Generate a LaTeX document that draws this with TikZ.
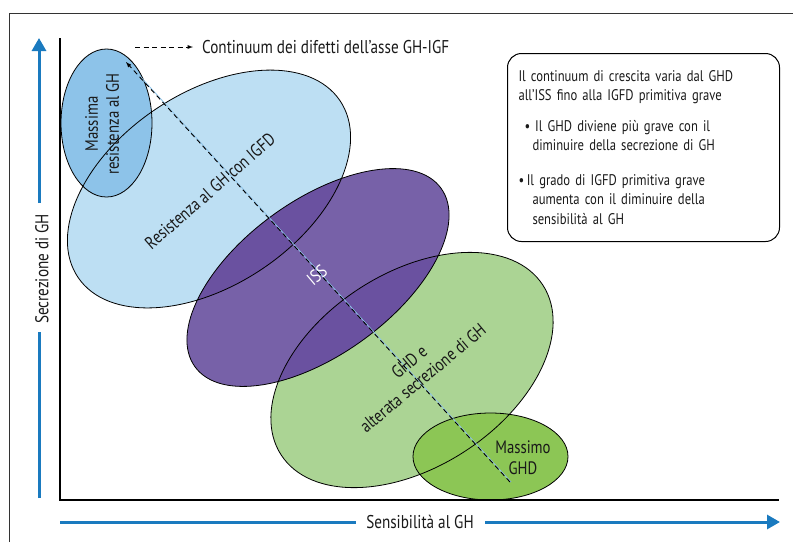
\documentclass[tikz,border=0pt]{standalone}
\usepackage{fontspec}
\setmainfont{PT Sans}[FakeStretch=0.82]
\usetikzlibrary{arrows.meta,calc}
\definecolor{skyblue}{HTML}{BDDFF3}
\definecolor{midblue}{HTML}{8DC3E9}
\definecolor{issviolet}{HTML}{7761A8}
\definecolor{issdark}{HTML}{6A51A0}
\definecolor{palegreen}{HTML}{ABD494}
\definecolor{ghdgreen}{HTML}{8CC655}
\definecolor{axisblue}{HTML}{1A7ABF}
\tikzstyle{lbl}=[inner sep=0pt, align=center, text=black!90, font=\fontsize{18}{21}\selectfont]
\tikzstyle{axlbl}=[inner sep=0pt, text=black!90, font=\fontsize{18.5}{20}\selectfont]
\tikzstyle{outl}=[draw=black, line width=0.8pt]
\tikzstyle{axline}=[axisblue, line width=3pt]
\tikzstyle{axarrow}=[axline, -{Triangle[length=13pt,width=14pt]}]
\tikzstyle{notebox}=[draw=black, line width=1pt, rounded corners=14pt, anchor=north west,
 minimum width=272pt, minimum height=188pt, text width=250pt, inner xsep=11pt,
 align=left, text=black!90, font=\fontsize{15.4}{19.5}\selectfont]
% ellipse paths
\def\ellRES{(209,189) ellipse [x radius=158pt, y radius=96pt, rotate=34]}
\def\ellMAX{(106.5,123) ellipse [x radius=45.5pt, y radius=74pt]}
\def\ellISS{(318,277.5) ellipse [x radius=152pt, y radius=77pt, rotate=36]}
\def\ellALT{(412,370) ellipse [x radius=156pt, y radius=97pt, rotate=33]}
\def\ellGHD{(490.5,456.5) ellipse [x radius=77.5pt, y radius=43.5pt]}
\begin{document}
\begin{tikzpicture}[x=1pt, y=-1pt]
\useasboundingbox (0,0) rectangle (793,542);
% frame
\draw[black!80, line width=0.8pt] (9,542) -- (9,13) -- (793,13);

% areas
\fill[skyblue] \ellRES;
\fill[midblue] \ellMAX;
\fill[palegreen] \ellALT;
\fill[ghdgreen] \ellGHD;
\fill[issviolet] \ellISS;
\begin{scope}
 \clip \ellISS;
 \fill[issdark] \ellRES;
 \fill[issdark] \ellALT;
\end{scope}
\draw[outl] \ellRES \ellMAX \ellALT \ellGHD \ellISS;

% continuum line
\coordinate (dtail) at (510,482);
\coordinate (dhead) at (126,62);
\draw[midblue, line width=0.8pt] ($(dtail)+(1,0)$) -- ($(dhead)+(1,0)$);
\draw[line width=0.9pt, dash pattern=on 5pt off 3.5pt, -latex] (dtail) -- (dhead);

% labels
\node[lbl, rotate=90] (MAXlbl) at (102,124) {Massima\\resistenza al GH};
\node[lbl, rotate=41] (RESlbl) at (210,191) {Resistenza al GH con IGFD};
\node[lbl, rotate=40, text=white] (ISSlbl) at (317,275) {ISS};
\node[lbl, rotate=40] (ALTlbl) at (416,370) {GHD e\\alterata secrezione di GH};
\node[lbl] (GHDlbl) at (523,458) {Massimo\\GHD};

% legend
\coordinate (legA) at (135,47);
\node[lbl, anchor=west, font=\fontsize{18.5}{21}\selectfont] (legtxt) at (202,47) {Continuum dei difetti dell’asse GH-IGF};
\draw[line width=0.9pt, dash pattern=on 5pt off 3.5pt, -latex, shorten >=9pt] (legA) -- (legtxt.west);

% note
\node[notebox] (note) at (507,53) {Il continuum di crescita varia dal GHD\\
all’ISS fino alla IGFD primitiva grave\\[11pt]
\hspace*{6pt}\textbullet\hspace*{5pt}Il GHD diviene più grave con il\\
\hspace*{14pt}diminuire della secrezione di GH\\[15pt]
\textbullet\,Il grado di IGFD primitiva grave\\
\hspace*{14pt}aumenta con il diminuire della\\
\hspace*{14pt}sensibilità al GH};

% axes
\coordinate (ytop) at (60,38);
\coordinate (O) at (60,500);
\coordinate (xend) at (779,500);
\draw[black, line width=2pt] (ytop) -- (O) -- (xend);

\node[axlbl, rotate=90] (ylab) at (42,269) {Secrezione di GH};
\coordinate (ybot) at (39,498);
\coordinate (ylo) at (39,332);
\coordinate (yhi) at (39,203);
\coordinate (ytip) at (39,38);
\draw[axline] (ybot) -- (ylo);
\draw[axarrow] (yhi) -- (ytip);

\node[axlbl] (xlab) at (420,522) {Sensibilità al GH};
\coordinate (xbeg) at (60,522);
\coordinate (xlo) at (356,522);
\coordinate (xhi) at (485,522);
\coordinate (xtip) at (780,522);
\draw[axline] (xbeg) -- (xlo);
\draw[axarrow] (xhi) -- (xtip);
\end{tikzpicture}
\end{document}
